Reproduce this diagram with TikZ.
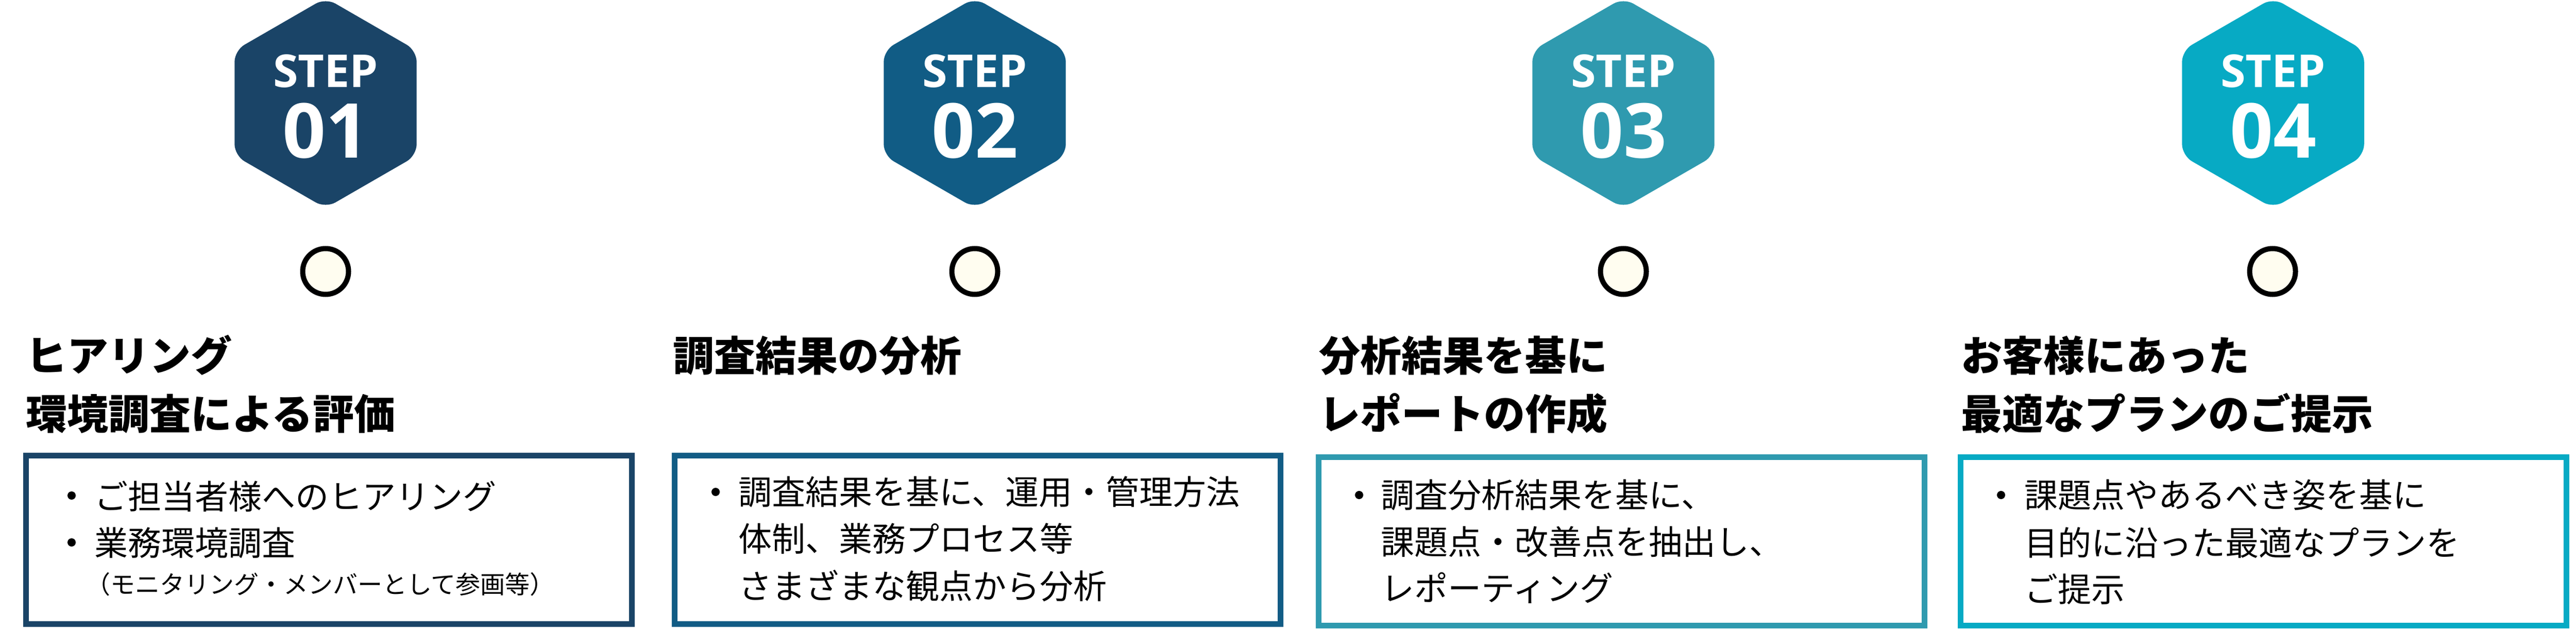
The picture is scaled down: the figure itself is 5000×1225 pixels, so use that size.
\documentclass[tikz,border=0pt]{standalone}
\usepackage{fontspec}
\setmainfont{Open Sans}
\newfontfamily\jp{Noto Sans CJK JP}
\definecolor{cA}{HTML}{1A4467}
\definecolor{cB}{HTML}{115C85}
\definecolor{cC}{HTML}{2F9AAF}
\definecolor{cD}{HTML}{07AAC4}
\definecolor{cream}{HTML}{FFFDF0}
\tikzset{
  hexstep/.style={fill=#1, draw=none, rounded corners=22pt},
  stepword/.style={text=white, inner sep=0pt, outer sep=0pt, anchor=base, font=\bfseries\fontsize{88}{100}\selectfont},
  stepnum/.style={text=white, inner sep=0pt, outer sep=0pt, anchor=base, font=\bfseries\fontsize{147}{160}\selectfont},
  ring/.style={circle, draw=black, line width=10pt, fill=cream, minimum size=89pt, inner sep=0pt},
  card/.style={draw=#1, line width=11pt, fill=white, anchor=north west, minimum width=1176pt, minimum height=327pt, inner sep=0pt},
  ttl/.style={inner sep=0pt, outer sep=0pt, anchor=base west, font=\jp\bfseries\fontsize{80}{96}\selectfont},
  body/.style={inner sep=0pt, outer sep=0pt, anchor=base west, font=\jp\fontsize{65}{80}\selectfont},
  small/.style={inner sep=0pt, outer sep=0pt, anchor=base west, font=\jp\fontsize{48}{58}\selectfont},
  bul/.style={circle, fill=black, minimum size=16pt, inner sep=0pt}
}
\begin{document}
\begin{tikzpicture}[x=1pt,y=-1pt]
\useasboundingbox[fill=white] (0,0) rectangle (5000,1225);
% hexagons
\foreach \cx/\col in {632/cA,1892/cB,3151/cC,4412/cD}{
  \fill[hexstep=\col] (\cx,-4) -- (\cx+176.7,98) -- (\cx+176.7,302) -- (\cx,404)
     -- (\cx-176.7,302) -- (\cx-176.7,98) -- cycle;
}
\node[stepword] (s1) at (632,170) {STEP};
\node[stepnum]  (n1) at (632,306) {01};
\node[stepword] (s2) at (1892,170) {STEP};
\node[stepnum]  (n2) at (1892,306) {02};
\node[stepword] (s3) at (3151,170) {STEP};
\node[stepnum]  (n3) at (3151,306) {03};
\node[stepword] (s4) at (4412,170) {STEP};
\node[stepnum]  (n4) at (4412,306) {04};
% rings
\node[ring] (r1) at (632,527) {};
\node[ring] (r2) at (1892,527) {};
\node[ring] (r3) at (3151,527) {};
\node[ring] (r4) at (4411,527) {};
% titles
\node[ttl] (t1a) at (50,720) {ヒアリング};
\node[ttl] (t1b) at (50,833) {環境調査による評価};
\node[ttl] (t2a) at (1306,720) {調査結果の分析};
\node[ttl] (t3a) at (2560,720) {分析結果を基に};
\node[ttl] (t3b) at (2560,833) {レポートの作成};
\node[ttl] (t4a) at (3806,720) {お客様にあった};
\node[ttl] (t4b) at (3806,833) {最適なプランのご提示};
% cards
\node[card=cA] (b1) at (44.5,878.5) {};
\node[card=cB] (b2) at (1303.5,878.5) {};
\node[card=cC] (b3) at (2553.5,881.5) {};
\node[card=cD] (b4) at (3799.5,881.5) {};
% card 1
\node[bul] (p1a) at (139,962) {};
\node[body] (x1a) at (183,988) {ご担当者様へのヒアリング};
\node[bul] (p1b) at (139,1053) {};
\node[body] (x1b) at (183,1078) {業務環境調査};
\node[small] (x1c) at (166,1152) {（モニタリング・メンバーとして参画等）};
% card 2
\node[bul] (p2a) at (1389,955) {};
\node[body] (x2a) at (1433,979) {調査結果を基に、運用・管理方法};
\node[body] (x2b) at (1433,1070) {体制、業務プロセス等};
\node[body] (x2c) at (1433,1162) {さまざまな観点から分析};
% card 3
\node[bul] (p3a) at (2638,961) {};
\node[body] (x3a) at (2680,985) {調査分析結果を基に、};
\node[body] (x3b) at (2680,1076) {課題点・改善点を抽出し、};
\node[body] (x3c) at (2680,1166) {レポーティング};
% card 4
\node[bul] (p4a) at (3884,961) {};
\node[body] (x4a) at (3929,985) {課題点やあるべき姿を基に};
\node[body] (x4b) at (3929,1078) {目的に沿った最適なプランを};
\node[body] (x4c) at (3929,1168) {ご提示};
\end{tikzpicture}
\end{document}
